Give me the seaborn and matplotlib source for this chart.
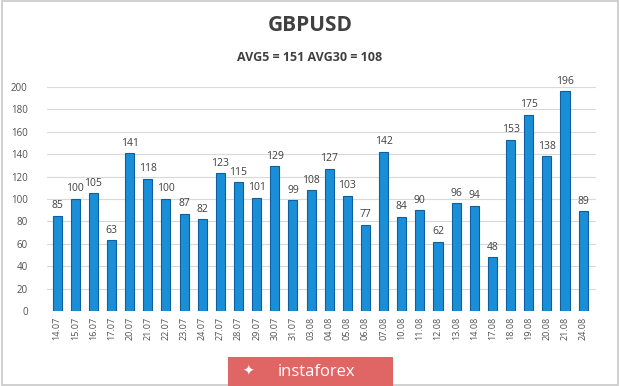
import matplotlib
matplotlib.use("Agg")
import matplotlib.pyplot as plt
from matplotlib.patches import FancyBboxPatch, Rectangle
import seaborn as sns
import pandas as pd

dates = ["14.07", "15.07", "16.07", "17.07", "20.07", "21.07", "22.07", "23.07",
         "24.07", "27.07", "28.07", "29.07", "30.07", "31.07", "03.08", "04.08",
         "05.08", "06.08", "07.08", "10.08", "11.08", "12.08", "13.08", "14.08",
         "17.08", "18.08", "19.08", "20.08", "21.08", "24.08"]
values = [85, 100, 105, 63, 141, 118, 100, 87, 82, 123, 115, 101, 129, 99, 108,
          127, 103, 77, 142, 84, 90, 62, 96, 94, 48, 153, 175, 138, 196, 89]
yticks = [0, 20, 40, 60, 80, 100, 120, 140, 160, 180, 200]

df = pd.DataFrame({"date": dates, "value": values})

sns.set_style("white")
plt.rcParams['font.family'] = ['Open Sans', 'DejaVu Sans']

fig = plt.figure(figsize=(6.2, 3.86), dpi=100)
fig.patch.set_facecolor("white")
ax = fig.add_axes([0.076, 0.194, 0.885, 0.581])

sns.barplot(data=df, x="date", y="value", color="#1a8fd8", width=0.5,
            edgecolor="#0d5f9e", linewidth=0.8, saturation=1, ax=ax)

for i, v in enumerate(values):
    ax.text(i, v + 4, str(v), ha="center", va="bottom", fontsize=7.5,
            color="#404040", clip_on=False)

ax.set_ylim(0, 200)
ax.set_xlim(-0.55, len(values) - 0.3)
ax.set_yticks(yticks)
ax.yaxis.grid(True, color="#d9d9d9", linewidth=0.8)
ax.set_axisbelow(True)
for s in ax.spines.values():
    s.set_visible(False)
ax.set_xlabel("")
ax.set_ylabel("")
ax.tick_params(axis="y", labelsize=7, colors="#505050", length=0, pad=14)
ax.tick_params(axis="x", labelsize=6.5, colors="#505050", length=0, rotation=90, pad=4)

fig.text(0.5, 0.935, "GBPUSD", ha="center", va="center", fontsize=15,
         fontweight="bold", color="#404040")
fig.text(0.5, 0.852, "AVG5 = 151 AVG30 = 108", ha="center", va="center",
         fontsize=9, fontweight="bold", color="#404040")

# frame
fig.patches.append(Rectangle((0.003, 0.003), 0.994, 0.994, transform=fig.transFigure,
                             fill=False, edgecolor="#c8c8c8", linewidth=1.2))
# watermark
fig.patches.append(Rectangle((0.368, 0.0), 0.266, 0.075, transform=fig.transFigure,
                             facecolor="#e06666", edgecolor="none"))
fig.text(0.51, 0.037, "instaforex", ha="center", va="center", fontsize=12,
         color="white")
fig.text(0.40, 0.037, "\u2726", ha="center", va="center", fontsize=10,
         color="white")

fig.savefig("out.png", dpi=100)
